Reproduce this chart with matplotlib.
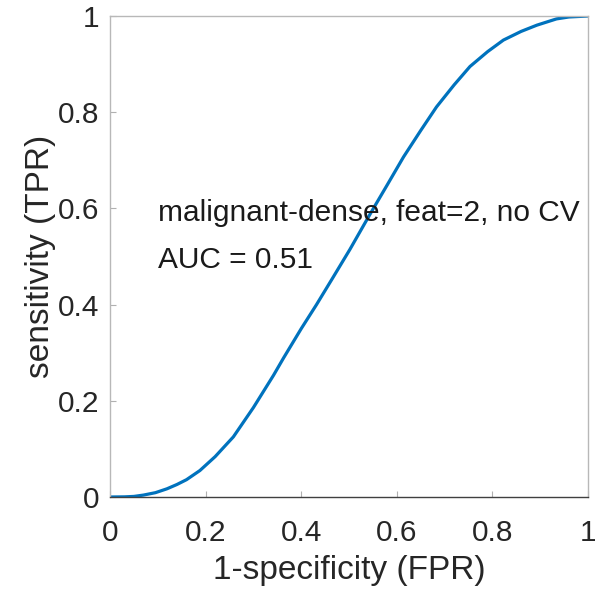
import numpy as np
import matplotlib
matplotlib.use("Agg")
import matplotlib.pyplot as plt

plt.rcParams['font.family'] = ['Liberation Sans', 'DejaVu Sans']

# ROC curve points
fpr = [0, 0.03, 0.05, 0.07, 0.095, 0.119, 0.14, 0.16, 0.188, 0.22, 0.258,
       0.30, 0.342, 0.363, 0.40, 0.432, 0.465, 0.502, 0.537, 0.551, 0.58,
       0.614, 0.65, 0.683, 0.72, 0.753, 0.79, 0.823, 0.86, 0.893, 0.934,
       0.96, 1.0]
tpr = [0, 0.0003, 0.0012, 0.004, 0.009, 0.017, 0.026, 0.036, 0.055, 0.084, 0.125,
       0.186, 0.253, 0.289, 0.35, 0.40, 0.454, 0.515, 0.576, 0.60, 0.649,
       0.707, 0.762, 0.811, 0.857, 0.895, 0.926, 0.95, 0.968, 0.981, 0.994,
       0.998, 1.0]
ticks = [0, 0.2, 0.4, 0.6, 0.8, 1]
tick_labels = ['0', '0.2', '0.4', '0.6', '0.8', '1']
label = 'malignant-dense, feat=2, no CV'
auc_text = 'AUC = 0.51'

fig = plt.figure(figsize=(5.95, 5.89), dpi=100)
ax = fig.add_axes([0.1849, 0.1562, 0.8034, 0.8166])

ax.plot(fpr, tpr, color='#0072BD', lw=2.3, solid_joinstyle='round',
        solid_capstyle='round')

ax.set_xlim(0, 1)
ax.set_ylim(0, 1)
ax.set_xticks(ticks)
ax.set_xticklabels(tick_labels)
ax.set_yticks(ticks)
ax.set_yticklabels(tick_labels)
ax.tick_params(direction='in', length=4, width=0.8, colors='#b0b0b0',
               labelcolor='#262626', labelsize=21.5)
ax.tick_params(axis='x', pad=16)
ax.tick_params(axis='y', pad=8)

for side in ['left', 'top', 'right']:
    ax.spines[side].set_color('#b8b8b8')
    ax.spines[side].set_linewidth(1.0)
ax.spines['bottom'].set_color('#404040')
ax.spines['bottom'].set_linewidth(1.0)

ax.set_xlabel('1-specificity (FPR)', fontsize=24, color='#262626', labelpad=5.5)
ax.set_ylabel('sensitivity (TPR)', fontsize=24, color='#262626', labelpad=1)

ax.text(0.1, 0.59, label, fontsize=21.5, color='#1a1a1a', va='center', ha='left')
ax.text(0.1, 0.493, auc_text, fontsize=21.5, color='#1a1a1a', va='center', ha='left')

fig.savefig('out.png', dpi=100, facecolor='white')
